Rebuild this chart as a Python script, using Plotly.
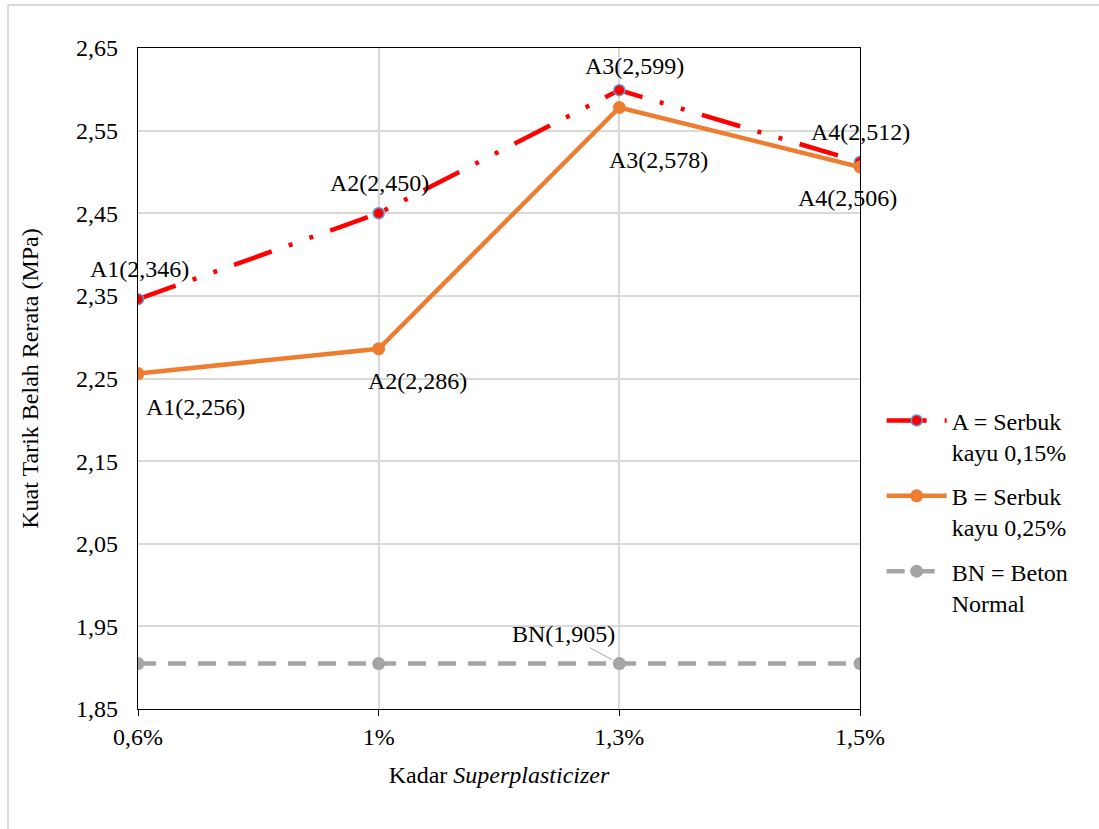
import plotly.graph_objects as go

categories = ["0,6%", "1%", "1,3%", "1,5%"]
series_a = [2.346, 2.450, 2.599, 2.512]
series_b = [2.256, 2.286, 2.578, 2.506]
series_bn = [1.905, 1.905, 1.905, 1.905]
labels_a = ["A1(2,346)", "A2(2,450)", "A3(2,599)", "A4(2,512)"]
labels_b = ["A1(2,256)", "A2(2,286)", "A3(2,578)", "A4(2,506)"]
label_bn = "BN(1,905)"
y_ticks = [1.85, 1.95, 2.05, 2.15, 2.25, 2.35, 2.45, 2.55, 2.65]
y_ticktext = ["1,85", "1,95", "2,05", "2,15", "2,25", "2,35", "2,45", "2,55", "2,65"]

FONT = "Liberation Serif"
FS = 24
xi = list(range(len(categories)))

fig = go.Figure()
fig.add_trace(go.Scatter(
    x=xi, y=series_a, mode="lines+markers", legendgroup="a",
    name="A = Serbuk<br>kayu 0,15%",
    line=dict(color="#FF0000", width=4.5, dash="40px,18px,4px,18px,4px,18px"),
    marker=dict(size=11, color="#FF0000", line=dict(color="#5B9BD5", width=1.5)),
))
fig.add_trace(go.Scatter(
    x=xi, y=series_b, mode="lines+markers", legendgroup="b",
    name="B = Serbuk<br>kayu 0,25%",
    line=dict(color="#ED7D31", width=4.5),
    marker=dict(size=13, color="#ED7D31"),
))
fig.add_trace(go.Scatter(
    x=xi, y=series_bn, mode="lines+markers", legendgroup="bn",
    name="BN = Beton<br>Normal",
    line=dict(color="#A5A5A5", width=4.5, dash="18px,12px"),
    marker=dict(size=13, color="#A5A5A5"),
))

# data labels (pixel offsets from each point)
a_shift = [(1, 30), (1, 30), (15, 24), (0, 30)]
b_shift = [(57, -33), (39, -32), (39, -53), (-13, -31)]
for i in xi:
    fig.add_annotation(x=i, y=series_a[i], text=labels_a[i], showarrow=False,
                       xshift=a_shift[i][0], yshift=a_shift[i][1],
                       font=dict(family=FONT, size=FS, color="#000"))
    fig.add_annotation(x=i, y=series_b[i], text=labels_b[i], showarrow=False,
                       xshift=b_shift[i][0], yshift=b_shift[i][1],
                       font=dict(family=FONT, size=FS, color="#000"))
fig.add_annotation(x=2, y=series_bn[2], text=label_bn, showarrow=True,
                   arrowhead=0, arrowwidth=1, arrowcolor="#A5A5A5",
                   ax=-56, ay=-30, standoff=8,
                   font=dict(family=FONT, size=FS, color="#000"))

# outer border (top and left)
fig.add_shape(type="line", xref="paper", yref="paper", x0=-0.18, x1=1.4, y0=1.065, y1=1.065,
              line=dict(color="#D9D9D9", width=2))
fig.add_shape(type="line", xref="paper", yref="paper", x0=-0.18, x1=-0.18, y0=-0.2, y1=1.065,
              line=dict(color="#D9D9D9", width=2))

fig.update_layout(
    width=1099, height=829,
    margin=dict(l=138, r=239, t=48, b=120),
    paper_bgcolor="white", plot_bgcolor="white",
    font=dict(family=FONT, size=FS, color="#000"),
    showlegend=True,
    legend=dict(x=1.03, y=0.47, xanchor="left", yanchor="top", valign="top",
                font=dict(family=FONT, size=FS, color="#000"),
                tracegroupgap=10, itemwidth=60),
    xaxis=dict(
        tickmode="array", tickvals=xi, ticktext=categories,
        range=[0, 3], showgrid=True, gridcolor="#D9D9D9", gridwidth=1.5,
        showline=True, linecolor="#000", linewidth=1.2, mirror=True,
        ticks="outside", ticklen=6, tickcolor="#000",
        tickfont=dict(family=FONT, size=FS),
        title=dict(text="Kadar <i>Superplasticizer</i>", font=dict(family=FONT, size=FS), standoff=17),
        zeroline=False,
    ),
    yaxis=dict(
        tickmode="array", tickvals=y_ticks, ticktext=y_ticktext,
        range=[1.85, 2.65], showgrid=True, gridcolor="#D9D9D9", gridwidth=1.5,
        showline=True, linecolor="#000", linewidth=1.2, mirror=True,
        ticks="outside", ticklen=14, tickcolor="rgba(0,0,0,0)",
        tickfont=dict(family=FONT, size=FS),
        title=dict(text="Kuat Tarik Belah Rerata (MPa)", font=dict(family=FONT, size=FS), standoff=30),
        zeroline=False,
    ),
)

fig.write_html("out.html")
